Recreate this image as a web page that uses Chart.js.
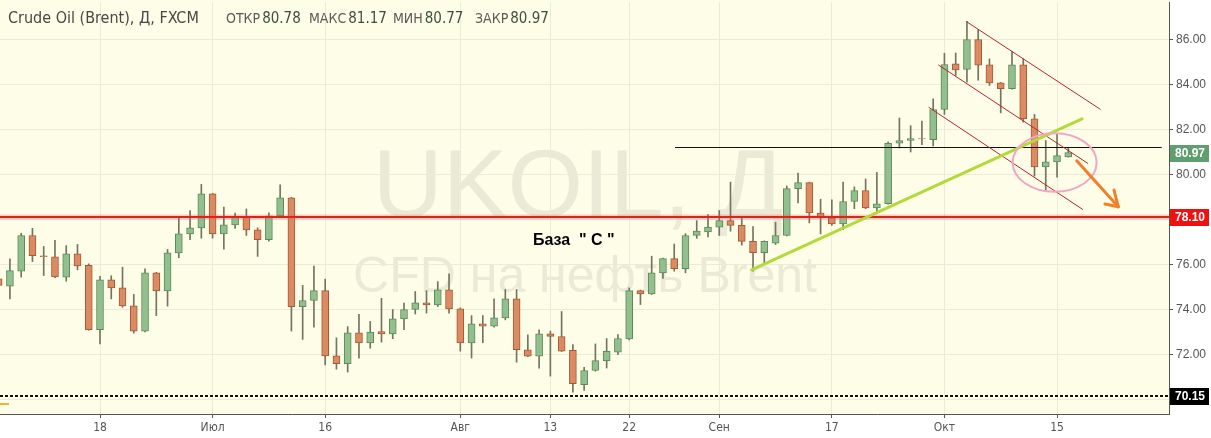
<!DOCTYPE html>
<html>
<head>
<meta charset="utf-8">
<script src="https://cdn.jsdelivr.net/npm/chart.js@4.4.1/dist/chart.umd.min.js"></script>
<style>
    html, body { margin: 0; padding: 0; background: #fff; }
    #wrap { width: 1211px; height: 438px; }
</style>
</head>
<body>
<div id="wrap"><canvas id="chart" width="1211" height="438"></canvas></div>
<script>
// Daily candles, Crude Oil (Brent), FXCM, 2018
const dates = [
    '06-05','06-06','06-07','06-08','06-11','06-12','06-13','06-14','06-15','06-18','06-19','06-20','06-21','06-22','06-25','06-26','06-27','06-28','06-29',
    '07-02','07-03','07-04','07-05','07-06','07-09','07-10','07-11','07-12','07-13','07-16','07-17','07-18','07-19','07-20','07-23','07-24','07-25','07-26','07-27','07-30','07-31',
    '08-01','08-02','08-03','08-06','08-07','08-08','08-09','08-10','08-13','08-14','08-15','08-16','08-17','08-20','08-21','08-22','08-23','08-24','08-27','08-28','08-29','08-30','08-31',
    '09-03','09-04','09-05','09-06','09-07','09-10','09-11','09-12','09-13','09-14','09-17','09-18','09-19','09-20','09-21','09-24','09-25','09-26','09-27','09-28',
    '10-01','10-02','10-03','10-04','10-05','10-08','10-09','10-10','10-11','10-12','10-15','10-16'
];
const openPrices = [
    75.36, 75.04, 75.70, 77.29, 76.38, 76.34, 75.44, 76.47, 75.96, 73.10, 75.32, 74.96, 74.16, 73.04, 75.63, 74.83, 76.52, 77.36, 77.63,
    79.14, 77.36, 77.76, 78.13, 77.54, 77.10, 78.16, 78.96, 74.13, 74.40, 74.84, 71.94, 71.59, 72.96, 72.52, 73.02, 72.92, 73.58, 74.00, 74.30, 74.20, 74.87,
    74.03, 72.52, 73.36, 73.26, 73.63, 74.47, 72.21, 71.93, 72.92, 72.80, 72.18, 70.66, 71.29, 71.73, 72.10, 72.69, 74.84, 74.69, 75.63, 76.26, 75.82, 77.29, 77.45,
    77.66, 77.95, 77.74, 77.03, 76.53, 76.95, 77.29, 79.37, 79.64, 78.29, 78.07, 77.80, 78.80, 79.29, 78.51, 78.70, 81.39, 81.51, 81.60, 81.55,
    82.89, 84.92, 84.67, 86.00, 84.87, 84.07, 83.81, 84.87, 82.47, 80.34, 80.56, 80.78
];
const highPrices = [
    75.60, 76.25, 77.39, 77.61, 76.80, 77.07, 76.84, 76.89, 76.03, 75.47, 75.50, 75.88, 74.67, 75.81, 75.65, 76.67, 78.13, 78.40, 79.56,
    79.16, 78.55, 78.28, 78.47, 77.63, 78.30, 79.54, 78.98, 75.07, 75.93, 75.35, 72.74, 73.24, 73.78, 73.47, 74.50, 74.00, 74.28, 74.80, 74.84, 75.24, 75.59,
    74.07, 73.73, 73.73, 74.47, 74.89, 74.89, 72.87, 73.10, 73.04, 73.91, 72.44, 71.43, 72.47, 72.71, 72.89, 74.96, 74.86, 76.37, 76.28, 76.91, 77.37, 77.95, 78.22,
    78.40, 79.66, 78.10, 77.69, 77.05, 77.88, 79.49, 80.06, 79.66, 78.90, 78.87, 79.66, 79.45, 79.80, 80.10, 81.45, 82.51, 82.17, 82.37, 83.36,
    85.39, 85.40, 86.81, 86.44, 85.14, 84.09, 85.47, 85.14, 82.67, 81.51, 81.78, 81.17
];
const lowPrices = [
    74.90, 74.47, 75.44, 76.13, 75.51, 75.42, 75.26, 75.76, 73.08, 72.47, 74.47, 74.10, 72.95, 73.00, 73.73, 74.15, 76.30, 77.10, 77.17,
    77.17, 76.68, 77.60, 77.29, 76.36, 77.04, 78.14, 73.04, 72.67, 73.21, 71.54, 71.35, 71.22, 71.84, 72.28, 72.55, 72.70, 73.10, 73.80, 73.84, 74.13, 73.84,
    72.15, 71.84, 72.52, 73.21, 73.54, 71.66, 71.90, 71.39, 71.04, 72.13, 70.33, 70.40, 71.26, 71.40, 71.99, 72.65, 74.22, 74.67, 75.38, 75.70, 75.63, 77.16, 77.23,
    77.29, 77.48, 76.86, 75.70, 76.00, 76.89, 77.27, 78.74, 77.85, 77.36, 77.74, 77.55, 78.48, 78.48, 78.29, 78.68, 81.18, 81.00, 81.33, 81.27,
    82.67, 84.40, 84.10, 84.19, 83.96, 82.74, 83.79, 82.33, 79.93, 79.26, 79.88, 80.77
];
const closePrices = [
    75.07, 75.73, 77.29, 76.39, 76.35, 75.45, 76.47, 75.94, 73.10, 75.32, 74.96, 74.16, 73.04, 75.63, 74.83, 76.52, 77.36, 77.63, 79.14,
    77.36, 77.76, 78.10, 77.54, 77.10, 78.16, 78.96, 74.13, 74.40, 74.84, 71.94, 71.59, 72.96, 72.52, 73.00, 72.92, 73.58, 74.00, 74.30, 74.20, 74.87, 74.03,
    72.52, 73.36, 73.26, 73.63, 74.47, 72.21, 71.93, 72.92, 72.80, 72.15, 70.70, 71.29, 71.73, 72.14, 72.71, 74.84, 74.69, 75.63, 76.26, 75.82, 77.29, 77.48, 77.66,
    77.95, 77.74, 77.03, 76.53, 77.03, 77.29, 79.37, 79.64, 78.29, 78.07, 77.80, 78.80, 79.29, 78.51, 78.70, 81.39, 81.51, 81.60, 81.58, 82.89,
    84.89, 84.65, 86.00, 84.86, 84.07, 83.81, 84.87, 82.47, 80.34, 80.56, 80.84, 80.97
];

// x axis labels and where they sit
const tickDates = ['06-18', '07-02', '07-16', '08-01', '08-13', '08-22', '09-03', '09-17', '10-01', '10-15'];
const tickLabels = ['18', 'Июл', '16', 'Авг', '13', '22', 'Сен', '17', 'Окт', '15'];
const priceTicks = [70, 72, 74, 76, 78, 80, 82, 84, 86];

// drawn levels / tools (x in candle index, y in price)
const supportLevel = 78.10;
const lowLevel = 70.15;
const blackLevel = [60.07, 103.3, 81.21];
const trendLine = [66.87, 75.76, 96.22, 82.47];
const channelLines = [
    [85.97, 86.79, 97.87, 82.89],
    [83.46, 84.87, 96.75, 80.49],
    [82.60, 82.99, 96.30, 78.44]
];
const ellipse = [93.79, 80.53, 3.73, 1.30];
const arrow = [95.75, 80.61, 99.44, 78.57];
const arrowHead = [[98.26, 78.69], [99.06, 79.31]];
const baseLabel = [47.45, 76.87, 'База  " С "'];

const upFill = '#91bf8d', upLine = '#5c8a58';
const downFill = '#db8a62', downLine = '#a35a36';
const cream = '#fdfde8';

const bodies = dates.map((d, i) => ({ x: i, y: [openPrices[i], closePrices[i]] }));
const wicks = dates.map((d, i) => ({ x: i, y: [lowPrices[i], highPrices[i]] }));
const isUp = i => closePrices[i] > openPrices[i];

const background = {
    id: 'background',
    beforeDraw(chart) {
        const { ctx, chartArea: a } = chart;
        ctx.save();
        ctx.fillStyle = '#ffffff';
        ctx.fillRect(0, 0, chart.width, chart.height);
        ctx.fillStyle = cream;
        ctx.fillRect(a.left, 0, a.right - a.left, a.bottom);
        // watermark
        ctx.fillStyle = '#eaead6';
        ctx.textAlign = 'center';
        ctx.font = '97px "Liberation Sans", Arial, sans-serif';
        ctx.fillText('UKOIL, Д', 578, 217);
        ctx.font = '50px "Liberation Sans", Arial, sans-serif';
        ctx.fillText('CFD на нефть Brent', 585, 292);
        ctx.restore();
    }
};

const drawings = {
    id: 'drawings',
    afterDatasetsDraw(chart) {
        const { ctx, chartArea: a, scales: { x, y } } = chart;
        const px = v => x.getPixelForValue(v);
        const py = v => y.getPixelForValue(v);
        const seg = (x1, y1, x2, y2) => {
            ctx.beginPath();
            ctx.moveTo(px(x1), py(y1));
            ctx.lineTo(px(x2), py(y2));
            ctx.stroke();
        };
        ctx.save();
        ctx.beginPath();
        ctx.rect(a.left, 0, a.right - a.left, a.bottom);
        ctx.clip();

        // support level with soft halo
        const ys = Math.round(py(supportLevel));
        ctx.strokeStyle = 'rgba(240, 90, 90, 0.28)';
        ctx.lineWidth = 5;
        ctx.beginPath(); ctx.moveTo(a.left, ys); ctx.lineTo(a.right, ys); ctx.stroke();
        ctx.strokeStyle = '#e3211c';
        ctx.lineWidth = 2;
        ctx.beginPath(); ctx.moveTo(a.left, ys); ctx.lineTo(a.right, ys); ctx.stroke();

        // black horizontal
        ctx.strokeStyle = '#111';
        ctx.lineWidth = 1;
        const yb = Math.round(py(blackLevel[2])) + 0.5;
        ctx.beginPath(); ctx.moveTo(px(blackLevel[0]), yb); ctx.lineTo(px(blackLevel[1]), yb); ctx.stroke();

        // channel
        ctx.strokeStyle = '#b8262a';
        ctx.lineWidth = 1;
        channelLines.forEach(l => seg(...l));

        // trend line
        ctx.strokeStyle = '#b3d93a';
        ctx.lineWidth = 3;
        ctx.lineCap = 'round';
        seg(...trendLine);

        // ellipse
        ctx.strokeStyle = '#f2a6c6';
        ctx.lineWidth = 2;
        const cx = px(ellipse[0]), cy = py(ellipse[1]);
        ctx.beginPath();
        ctx.ellipse(cx, cy, px(ellipse[0] + ellipse[2]) - cx, cy - py(ellipse[1] + ellipse[3]), 0, 0, Math.PI * 2);
        ctx.stroke();

        // arrow
        ctx.strokeStyle = '#f27f2b';
        ctx.lineWidth = 3;
        seg(...arrow);
        arrowHead.forEach(h => seg(arrow[2], arrow[3], h[0], h[1]));

        // low level dashed
        ctx.strokeStyle = '#111';
        ctx.lineWidth = 2;
        ctx.lineCap = 'butt';
        ctx.setLineDash([3, 2]);
        const yl = Math.round(py(lowLevel));
        ctx.beginPath(); ctx.moveTo(a.left, yl); ctx.lineTo(a.right, yl); ctx.stroke();
        ctx.setLineDash([]);

        // small orange tick near the left bottom
        ctx.strokeStyle = '#f0b340';
        ctx.lineWidth = 2;
        ctx.beginPath(); ctx.moveTo(a.left, 404); ctx.lineTo(a.left + 9, 404); ctx.stroke();

        // label
        ctx.fillStyle = '#000';
        ctx.font = 'bold 16px "Liberation Sans", Arial, sans-serif';
        ctx.textAlign = 'left';
        ctx.fillText(baseLabel[2], px(baseLabel[0]), py(baseLabel[1]));
        ctx.restore();
    },
    afterDraw(chart) {
        const { ctx, chartArea: a, scales: { y } } = chart;
        ctx.save();
        // price boxes on the axis
        const box = (value, bg) => {
            const yc = Math.round(y.getPixelForValue(value));
            ctx.fillStyle = bg;
            ctx.fillRect(a.right + 1, yc - 8, 39, 17);
            ctx.fillStyle = '#fff';
            ctx.font = 'bold 12px "Liberation Sans", Arial, sans-serif';
            ctx.textBaseline = 'middle';
            ctx.textAlign = 'left';
            ctx.fillText(value.toFixed(2), a.right + 6, yc + 1);
        };
        box(closePrices[closePrices.length - 1], '#5f9e6e');
        box(supportLevel, '#f01010');
        box(lowLevel, '#000');

        // header
        const last = closePrices.length - 1;
        ctx.textBaseline = 'alphabetic';
        ctx.textAlign = 'left';
        ctx.fillStyle = '#474747';
        ctx.font = '16px "DejaVu Sans Condensed", "Liberation Sans", Arial, sans-serif';
        ctx.fillText('Crude Oil (Brent), Д, FXCM', 8, 23, 205);
        const items = [
            ['ОТКР', openPrices[last], 226],
            ['МАКС', highPrices[last], 309],
            ['МИН', lowPrices[last], 393],
            ['ЗАКР', closePrices[last], 475]
        ];
        const narrow = '"Liberation Sans Narrow", "DejaVu Sans Condensed", Arial, sans-serif';
        items.forEach(([label, value, left]) => {
            ctx.font = '14px ' + narrow;
            ctx.fillStyle = '#5a5a5a';
            ctx.fillText(label, left, 23);
            const w = ctx.measureText(label).width;
            ctx.font = '15px ' + narrow;
            ctx.fillStyle = '#3f4f3f';
            ctx.fillText(value.toFixed(2), left + w + 2, 23);
        });
        ctx.restore();
    }
};

const chart = new Chart(document.getElementById('chart'), {
    type: 'bar',
    data: {
        datasets: [
            {
                label: 'body',
                data: bodies,
                barThickness: 7,
                grouped: false,
                borderSkipped: false,
                borderWidth: 1,
                backgroundColor: ctx => isUp(ctx.dataIndex) ? upFill : downFill,
                borderColor: ctx => isUp(ctx.dataIndex) ? upLine : downLine
            },
            {
                label: 'wick',
                data: wicks,
                barThickness: 1,
                grouped: false,
                borderWidth: 0,
                backgroundColor: '#74745f'
            }
        ]
    },
    options: {
        responsive: false,
        animation: false,
        devicePixelRatio: 1,
        layout: { padding: { top: 2, left: 0, right: 0, bottom: 0 } },
        plugins: { legend: { display: false }, tooltip: { enabled: false } },
        scales: {
            x: {
                type: 'linear',
                min: 0.118,
                max: 103.946,
                offset: false,
                grid: { offset: false, color: '#ebebd6', tickColor: '#555', tickLength: 4 },
                border: { display: true, color: '#555' },
                afterBuildTicks: scale => {
                    scale.ticks = tickDates.map(d => ({ value: dates.indexOf(d) }));
                },
                afterFit: scale => {
                    scale.height = 24;
                    scale.paddingLeft = 0;
                    scale.paddingRight = 0;
                },
                ticks: {
                    autoSkip: false,
                    maxRotation: 0,
                    padding: 3,
                    color: '#555',
                    font: { family: '"Liberation Sans Narrow", "DejaVu Sans Condensed", Arial, sans-serif', size: 12 },
                    callback: value => tickLabels[tickDates.indexOf(dates[value])] || ''
                }
            },
            y: {
                position: 'right',
                min: 69.3556,
                max: 87.6667,
                grid: { color: '#ebebd6', tickColor: '#555', tickLength: 4 },
                border: { display: true, color: '#555' },
                afterBuildTicks: scale => {
                    scale.ticks = priceTicks.map(v => ({ value: v }));
                },
                afterFit: scale => {
                    scale.width = 42;
                    scale.paddingTop = 0;
                    scale.paddingBottom = 0;
                },
                ticks: {
                    padding: 3,
                    color: '#555',
                    font: { family: '"Liberation Sans", Arial, sans-serif', size: 12 },
                    callback: value => value === 70 ? '' : value.toFixed(2)
                }
            }
        }
    },
    plugins: [background, drawings]
});
</script>
</body>
</html>
